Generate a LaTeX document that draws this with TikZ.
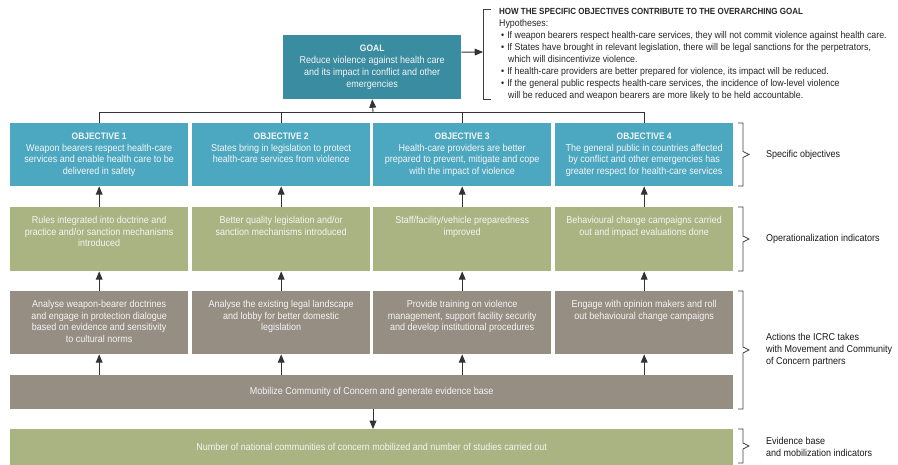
\documentclass[tikz,border=0pt]{standalone}
\usepackage{fontspec}
\setmainfont{Liberation Sans}[FakeStretch=0.9]
\usepackage{tikz}
\usetikzlibrary{shapes.geometric, arrows}
\definecolor{goalblue}{RGB}{58,140,160}
\definecolor{objblue}{RGB}{76,168,192}
\definecolor{olive}{RGB}{170,179,130}
\definecolor{taupe}{RGB}{150,141,131}
\tikzstyle{arrow} = [->,>=triangle 45,line width=0.9pt,draw=black!80]
\tikzstyle{cell} = [anchor=north west,inner sep=0pt,text=white!96!black]
\tikzstyle{bracket} = [line width=0.7pt,draw=black!75]
\tikzstyle{sidelabel} = [anchor=west,inner sep=0pt,align=left,text=black!90]
\newcommand{\boxfont}{\fontsize{10}{11.8}\selectfont}
\newcommand{\cellhead}[1]{{\fontsize{9.4}{11.8}\selectfont\bfseries #1}}
% top aligned text in a box of given height
\newcommand{\celltext}[2]{\parbox[c][#1][t]{178pt}{\centering\boxfont\rule{0pt}{16pt}#2}}

\begin{document}
\begin{tikzpicture}[x=1pt,y=-1pt]
	\useasboundingbox (0,0) rectangle (898,464);
	
	% Goal and hypotheses
	\node[cell,fill=goalblue] (goal) at (283,35)
		{\parbox[c][64pt][c]{178pt}{\centering\boxfont\cellhead{GOAL}\\
		Reduce violence against health care\\ and its impact in conflict and other\\ emergencies}};
	\coordinate (hyp) at (483,52);
	\draw[arrow] ([yshift=15pt]goal.east) -- (hyp);
	\draw[bracket] (491,9) -- (483,9) -- (483,99) -- (491,99);
	\node[anchor=north west,inner sep=0pt,align=left,text=black!85,
		font=\fontsize{9.8}{12}\selectfont] (hyptext) at (499,8)
		{{\fontsize{8.9}{12}\selectfont\bfseries HOW THE SPECIFIC OBJECTIVES CONTRIBUTE TO THE OVERARCHING GOAL}\\
		Hypotheses:\\
		\hspace*{2pt}\textbullet\hspace{3pt}If weapon bearers respect health-care services, they will not commit violence against health care.\\
		\hspace*{2pt}\textbullet\hspace{3pt}If States have brought in relevant legislation, there will be legal sanctions for the perpetrators,\\
		\hspace*{9pt}which will disincentivize violence.\\
		\hspace*{2pt}\textbullet\hspace{3pt}If health-care providers are better prepared for violence, its impact will be reduced.\\
		\hspace*{2pt}\textbullet\hspace{3pt}If the general public respects health-care services, the incidence of low-level violence\\
		\hspace*{9pt}will be reduced and weapon bearers are more likely to be held accountable.};
	
	% Specific objectives
	\node[cell,fill=objblue] (o1) at (10,123) {\celltext{63pt}{\cellhead{OBJECTIVE 1}\\
		Weapon bearers respect health-care\\ services and enable health care to be\\ delivered in safety}};
	\node[cell,fill=objblue] (o2) at (192,123) {\celltext{63pt}{\cellhead{OBJECTIVE 2}\\
		States bring in legislation to protect\\ health-care services from violence}};
	\node[cell,fill=objblue] (o3) at (373,123) {\celltext{63pt}{\cellhead{OBJECTIVE 3}\\
		Health-care providers are better\\ prepared to prevent, mitigate and cope\\ with the impact of violence}};
	\node[cell,fill=objblue] (o4) at (555,123) {\celltext{63pt}{\cellhead{OBJECTIVE 4}\\
		The general public in countries affected\\ by conflict and other emergencies has\\ greater respect for health-care services}};
	
	% Operationalization indicators
	\node[cell,fill=olive] (g1) at (10,207) {\celltext{64pt}{Rules integrated into doctrine and\\ practice and/or sanction mechanisms\\ introduced}};
	\node[cell,fill=olive] (g2) at (192,207) {\celltext{64pt}{Better quality legislation and/or\\ sanction mechanisms introduced}};
	\node[cell,fill=olive] (g3) at (373,207) {\celltext{64pt}{Staff/facility/vehicle preparedness\\ improved}};
	\node[cell,fill=olive] (g4) at (555,207) {\celltext{64pt}{Behavioural change campaigns carried\\ out and impact evaluations done}};
	
	% Actions
	\node[cell,fill=taupe] (a1) at (10,291) {\celltext{63pt}{Analyse weapon-bearer doctrines\\ and engage in protection dialogue\\ based on evidence and sensitivity\\ to cultural norms}};
	\node[cell,fill=taupe] (a2) at (192,291) {\celltext{63pt}{Analyse the existing legal landscape\\ and lobby for better domestic\\ legislation}};
	\node[cell,fill=taupe] (a3) at (373,291) {\celltext{63pt}{Provide training on violence\\ management, support facility security\\ and develop institutional procedures}};
	\node[cell,fill=taupe] (a4) at (555,291) {\celltext{63pt}{Engage with opinion makers and roll\\ out behavioural change campaigns}};
	
	\node[cell,fill=taupe,minimum width=723pt,minimum height=34pt,font=\boxfont] (mob) at (10,375)
		{Mobilize Community of Concern and generate evidence base};
	\node[cell,fill=olive,minimum width=723pt,minimum height=36pt,font=\boxfont] (evi) at (10,429)
		{Number of national communities of concern mobilized and number of studies carried out};
	
	% Connectors
	\coordinate (hub) at (373,112);
	\draw[line width=0.9pt,draw=black!80] (o1.north) -- (o1.north |- hub) -- (o4.north |- hub) -- (o4.north);
	\draw[line width=0.9pt,draw=black!80] (o2.north) -- (o2.north |- hub);
	\draw[line width=0.9pt,draw=black!80] (o3.north) -- (o3.north |- hub);
	\draw[arrow] (hub) -- (goal.south);
	\foreach \i in {1,...,4}{%
		\draw[arrow] (g\i.north) -- (o\i.south);
		\draw[arrow] (a\i.north) -- (g\i.south);
		\draw[arrow] (mob.north -| a\i.south) -- (a\i.south);
	}
	\draw[arrow] (mob.south -| hub) -- (evi.north -| hub);
	
	% Side brackets and labels
	\foreach \top/\bot in {123/186,207/271,291/409,429/463}{%
		\pgfmathsetmacro\mid{(\top+\bot)/2}
		\draw[bracket] (738,\top) -- (743,\top) -- (743,\mid-3) -- (749,\mid) -- (743,\mid+3) -- (743,\bot) -- (738,\bot);
	}
	\node[sidelabel,font=\boxfont] (lobj) at (766,154.5) {Specific objectives};
	\node[sidelabel,font=\boxfont] (lind) at (766,239) {Operationalization indicators};
	\node[sidelabel,font=\boxfont] (lact) at (766,350) {Actions the ICRC takes\\ with Movement and Community\\ of Concern partners};
	\node[sidelabel,font=\boxfont] (levi) at (766,447) {Evidence base\\ and mobilization indicators};
\end{tikzpicture}
\end{document}
